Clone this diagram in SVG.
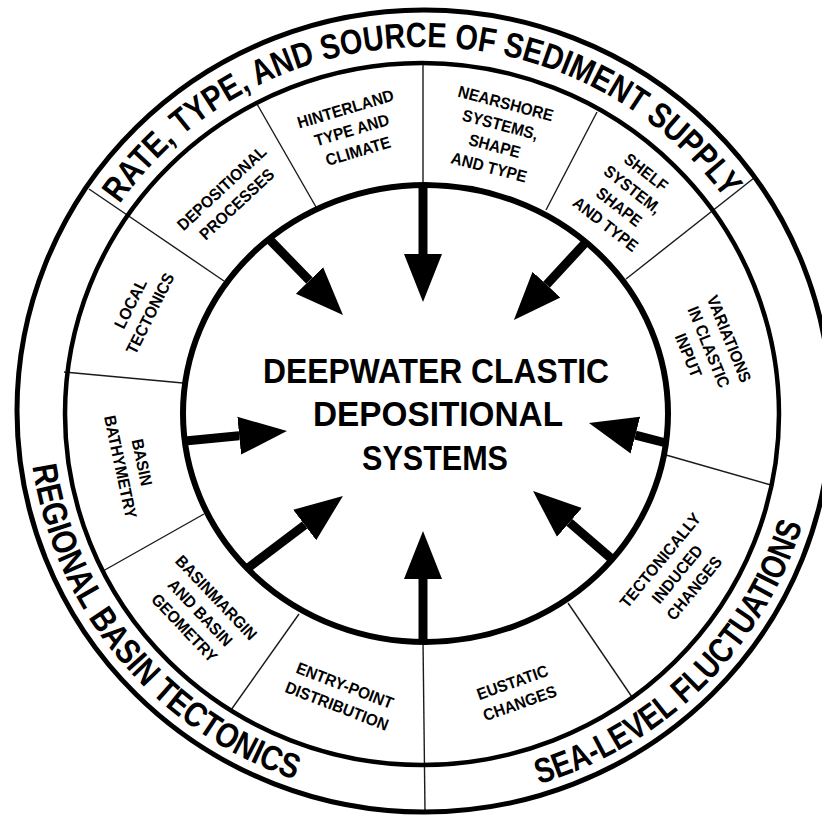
<svg xmlns="http://www.w3.org/2000/svg" width="822" height="816" viewBox="0 0 822 816">
<style>
.ring{fill:none;stroke:#000}
.div{stroke:#1a1a1a;stroke-width:1.4;fill:none}
.arrow{stroke:#000;stroke-width:9;fill:none;marker-end:url(#head)}
.band{font-family:"Liberation Sans",Arial,sans-serif;font-weight:bold;font-size:35px;fill:#000;text-anchor:middle}
.lbl{font-family:"Liberation Sans",Arial,sans-serif;font-weight:bold;font-size:16.5px;fill:#000;text-anchor:middle}
.title{font-family:"Liberation Sans",Arial,sans-serif;font-weight:bold;font-size:35px;fill:#000;text-anchor:middle}
</style>
<defs>
<marker id="head" markerUnits="userSpaceOnUse" viewBox="0 -20 48 40" markerWidth="48" markerHeight="40" refX="0" refY="0" orient="auto">
<path d="M0,-19 L48,0 L0,19 Z" fill="#000"/>
</marker>
<path id="pTop" d="M117.3,207.5 A370,364 0 0 1 727.1,202.2"/>
<path id="pLeft" d="M30,445 A395.5,390 0 0 0 315,785.9"/>
<path id="pRight" d="M519.7,789.4 A395.5,390 0 0 0 807.8,505.3"/>
</defs>
<rect width="822" height="816" fill="#fff"/>

<g id="dividers">
<line class="div" x1="423" y1="184" x2="423" y2="62"/>
<line class="div" x1="316" y1="207" x2="257" y2="104"/>
<line class="div" x1="224" y1="281" x2="89" y2="189"/>
<line class="div" x1="183" y1="383" x2="64" y2="372"/>
<line class="div" x1="204" y1="514" x2="103" y2="571"/>
<line class="div" x1="299" y1="614" x2="231" y2="710"/>
<line class="div" x1="423" y1="640" x2="425" y2="811"/>
<line class="div" x1="568" y1="603" x2="632" y2="697"/>
<line class="div" x1="666" y1="455" x2="771" y2="485"/>
<line class="div" x1="626" y1="279" x2="754" y2="178"/>
<line class="div" x1="546" y1="210" x2="597" y2="112"/>
</g>

<g id="rings">
<ellipse class="ring" cx="424" cy="411" rx="407" ry="401" stroke-width="5"/>
<ellipse class="ring" cx="422" cy="414" rx="357" ry="351" stroke-width="4.5"/>
<ellipse class="ring" cx="425.5" cy="413.5" rx="242.5" ry="228.5" stroke-width="6"/>
</g>

<g id="band-sediment-supply">
<text class="band" textLength="705" lengthAdjust="spacingAndGlyphs"><textPath href="#pTop" startOffset="50%">RATE, TYPE, AND SOURCE OF SEDIMENT SUPPLY</textPath></text>
</g>
<g id="band-regional-tectonics">
<text class="band" textLength="430" lengthAdjust="spacingAndGlyphs"><textPath href="#pLeft" startOffset="50%">REGIONAL BASIN TECTONICS</textPath></text>
</g>
<g id="band-sea-level">
<text class="band" textLength="385" lengthAdjust="spacingAndGlyphs"><textPath href="#pRight" startOffset="50%">SEA-LEVEL FLUCTUATIONS</textPath></text>
</g>

<g id="center">
<text class="title" x="436" y="383" textLength="346" lengthAdjust="spacingAndGlyphs">DEEPWATER CLASTIC</text>
<text class="title" x="438" y="426" textLength="250" lengthAdjust="spacingAndGlyphs">DEPOSITIONAL</text>
<text class="title" x="435" y="470" textLength="146" lengthAdjust="spacingAndGlyphs">SYSTEMS</text>
</g>

<g id="seg-hinterland" transform="translate(351.7,129.7) rotate(-16.5) scale(0.93,1)">
<text class="lbl" y="-16">HINTERLAND</text>
<text class="lbl" y="6">TYPE AND</text>
<text class="lbl" y="28">CLIMATE</text>
</g>
<g id="seg-depositional" transform="translate(229,196) rotate(-43) scale(0.93,1)">
<text class="lbl" y="-5">DEPOSITIONAL</text>
<text class="lbl" y="17">PROCESSES</text>
</g>
<g id="seg-local" transform="translate(140,308.5) rotate(-63.5) scale(0.93,1)">
<text class="lbl" y="-5">LOCAL</text>
<text class="lbl" y="17">TECTONICS</text>
</g>
<g id="seg-bathymetry" transform="translate(131.5,464.5) rotate(78) scale(0.93,1)">
<text class="lbl" y="-5">BASIN</text>
<text class="lbl" y="17">BATHYMETRY</text>
</g>
<g id="seg-basinmargin" transform="translate(200.5,612.5) rotate(46.5) scale(0.93,1)">
<text class="lbl" y="-16">BASINMARGIN</text>
<text class="lbl" y="6">AND BASIN</text>
<text class="lbl" y="28">GEOMETRY</text>
</g>
<g id="seg-entry" transform="translate(341,695.5) rotate(21) scale(0.93,1)">
<text class="lbl" y="-5">ENTRY-POINT</text>
<text class="lbl" y="17">DISTRIBUTION</text>
</g>
<g id="seg-eustatic" transform="translate(516,692.5) rotate(-19.5) scale(0.93,1)">
<text class="lbl" y="-5">EUSTATIC</text>
<text class="lbl" y="17">CHANGES</text>
</g>
<g id="seg-tectonically" transform="translate(677,574) rotate(-50.6) scale(0.93,1)">
<text class="lbl" y="-16">TECTONICALLY</text>
<text class="lbl" y="6">INDUCED</text>
<text class="lbl" y="28">CHANGES</text>
</g>
<g id="seg-variations" transform="translate(709,347) rotate(68) scale(0.93,1)">
<text class="lbl" y="-16">VARIATIONS</text>
<text class="lbl" y="6">IN CLASTIC</text>
<text class="lbl" y="28">INPUT</text>
</g>
<g id="seg-shelf" transform="translate(626,198) rotate(38) scale(0.93,1)">
<text class="lbl" y="-27">SHELF</text>
<text class="lbl" y="-5">SYSTEM,</text>
<text class="lbl" y="17">SHAPE</text>
<text class="lbl" y="39">AND TYPE</text>
</g>
<g id="seg-nearshore" transform="translate(497.5,135) rotate(14.7) scale(0.93,1)">
<text class="lbl" y="-27">NEARSHORE</text>
<text class="lbl" y="-5">SYSTEMS,</text>
<text class="lbl" y="17">SHAPE</text>
<text class="lbl" y="39">AND TYPE</text>
</g>

<g id="connectors">
<path class="arrow" d="M423,186 L423,254"/>
<path class="arrow" d="M270,240 L309.5,280.6"/>
<path class="arrow" d="M586,242 L546.5,284.7"/>
<path class="arrow" d="M185,441 L239.2,435.7"/>
<path class="arrow" d="M248,568 L304.7,525"/>
<path class="arrow" d="M423,642 L423,579"/>
<path class="arrow" d="M613,560 L569.4,522.4"/>
<path class="arrow" d="M666,443 L635.4,435.1"/>
</g>
</svg>
